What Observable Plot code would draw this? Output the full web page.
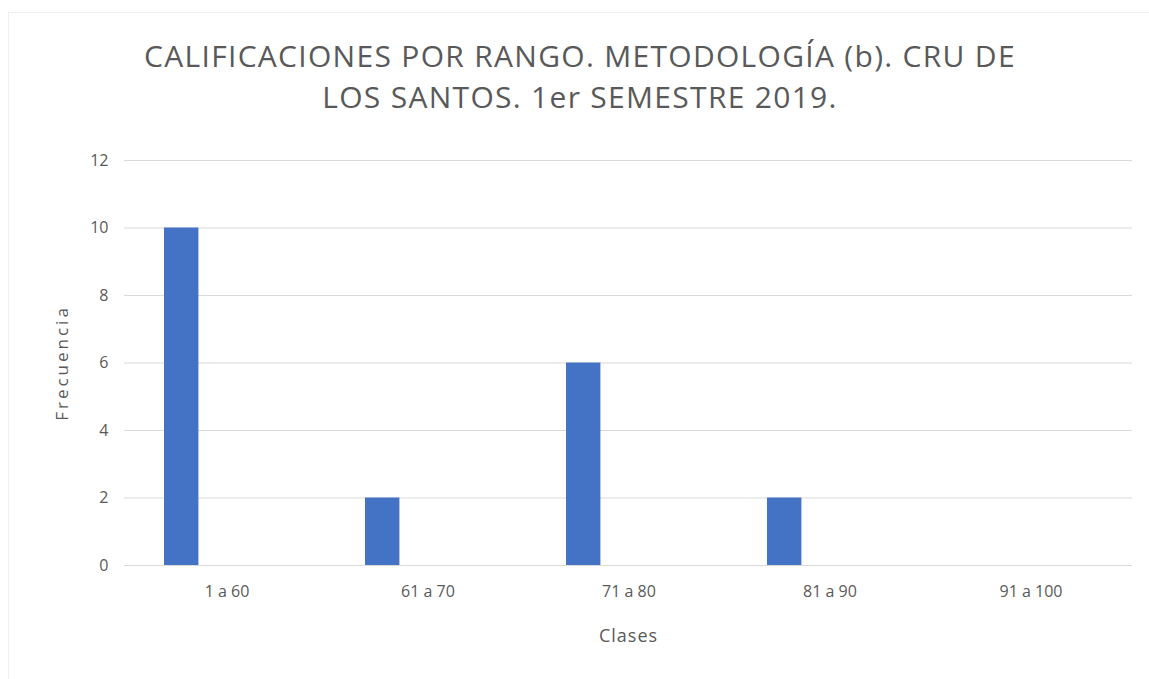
<!DOCTYPE html>
<html>
<head>
<meta charset="utf-8">
<script src="https://cdn.jsdelivr.net/npm/d3@7"></script>
<script src="https://cdn.jsdelivr.net/npm/@observablehq/plot@0.6"></script>
<style>
  html, body { margin: 0; padding: 0; background: #fff; }
  #wrap { position: relative; width: 1149px; height: 679px; overflow: hidden; font-family: "Open Sans", Lato, sans-serif; }
  #frame { position: absolute; left: 8px; top: 12px; width: 1160px; height: 700px; border-top: 1px solid #f0f0f0; border-left: 1px solid #f0f0f0; }
  #title { position: absolute; left: 0; top: 35px; width: 1160px; text-align: center; color: #595959; font-size: 30px; line-height: 41px; letter-spacing: 1.3px; }
  #chart { position: absolute; left: 0; top: 130px; }
</style>
</head>
<body>
<div id="wrap">
  <div id="frame"></div>
  <div id="title">CALIFICACIONES POR RANGO. METODOLOGÍA (b). CRU DE<br>LOS SANTOS. 1er SEMESTRE 2019.</div>
  <div id="chart"></div>
</div>
<script>
const clases = ["1 a 60", "61 a 70", "71 a 80", "81 a 90", "91 a 100"];
const frecuencias = [10, 2, 6, 2, 0];
const yTicks = [0, 2, 4, 6, 8, 10, 12];
const xTitle = "Clases";
const yTitle = "Frecuencia";

const data = clases.map((c, i) => ({clase: c, frecuencia: frecuencias[i]}));
const W = 1149, H = 549, mL = 124, mR = 17, mT = 30, mB = 114;
const band = (W - mL - mR) / clases.length;

const plot = Plot.plot({
  width: W, height: H,
  marginLeft: mL, marginRight: mR, marginTop: mT, marginBottom: mB,
  style: {fontFamily: "'Open Sans', Lato, sans-serif", fontSize: "16px", color: "#595959", background: "transparent"},
  x: {domain: clases, padding: 0, label: null},
  y: {domain: [0, 12], label: null},
  marks: [
    Plot.gridY(yTicks, {stroke: "#d9d9d9", strokeOpacity: 1, strokeWidth: 1}),
    Plot.barY(data.filter(d => d.frecuencia > 0), {x: "clase", y: "frecuencia", fill: "#4472C4", insetLeft: 38, insetRight: band - 73}),
    Plot.axisX({tickSize: 0, tickPadding: 20, fill: "#595959", fontSize: 16}),
    Plot.axisY(yTicks, {tickSize: 0, tickPadding: 16, fill: "#595959", fontSize: 16, label: null}),
    Plot.text([xTitle], {frameAnchor: "bottom", dy: 71, fill: "#595959", fontSize: 18, lineAnchor: "middle", className: "xlab"}),
    Plot.text([yTitle], {frameAnchor: "left", dx: -62, rotate: -90, textAnchor: "middle", fill: "#595959", fontSize: 17, lineAnchor: "middle", className: "ylab"})
  ]
});
d3.select(plot).selectAll(".ylab text").attr("letter-spacing", "3px");
d3.select(plot).selectAll(".xlab text").attr("letter-spacing", "1px");
document.getElementById("chart").appendChild(plot);
</script>
</body>
</html>
